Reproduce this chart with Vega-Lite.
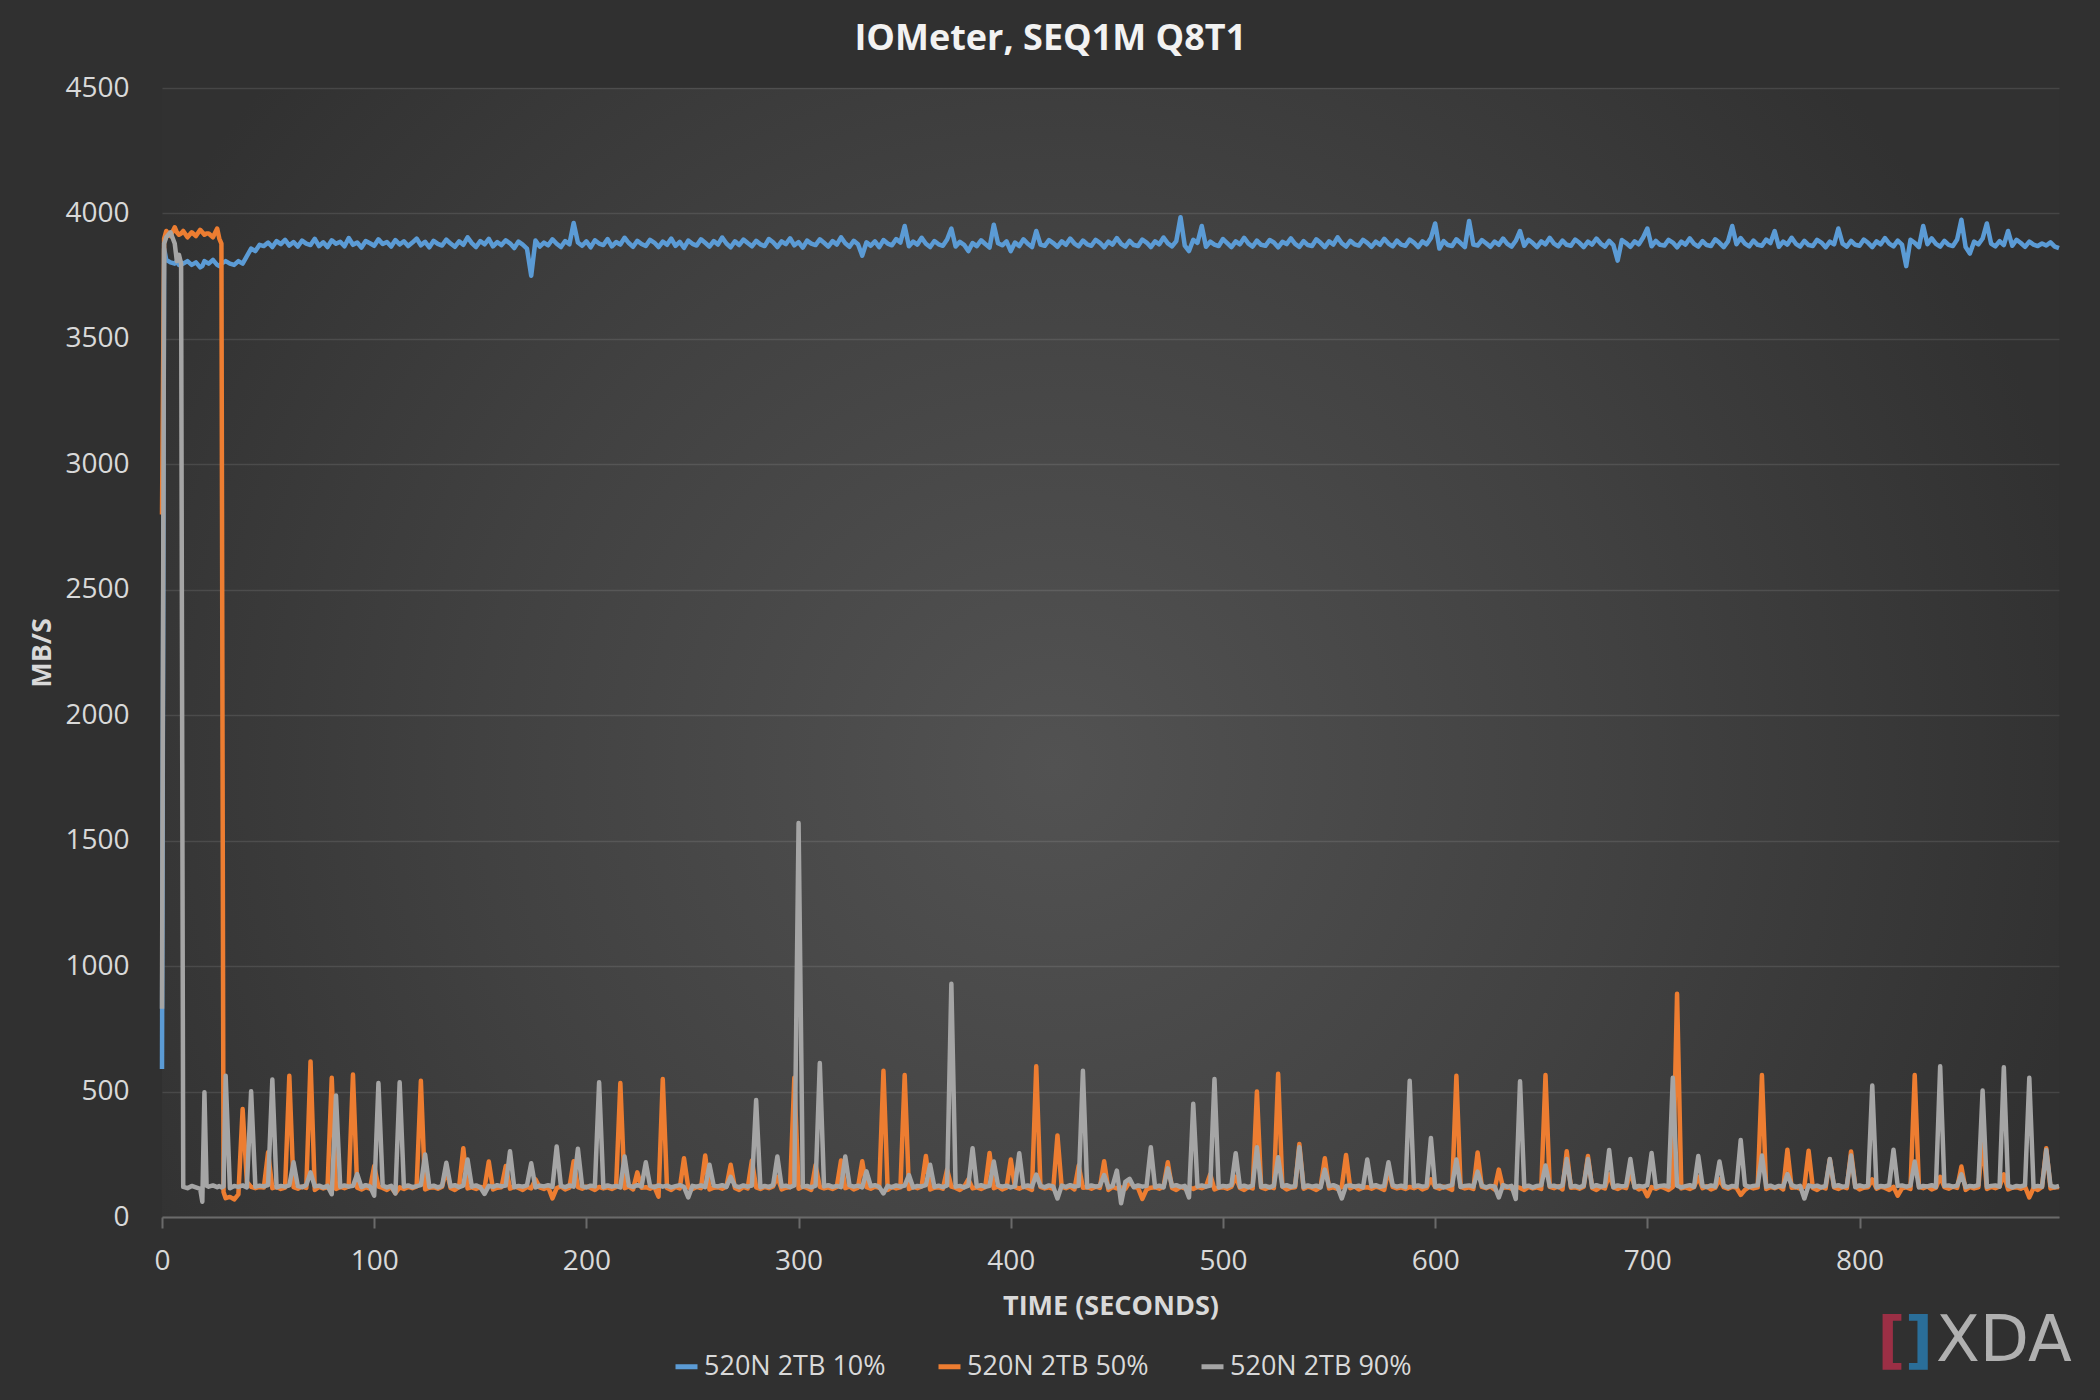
{
"$schema": "https://vega.github.io/schema/vega-lite/v6.json",
"width": 1897, "height": 1129,
"autosize": {"type": "none"},
"padding": {"left": 162, "top": 88, "right": 41, "bottom": 183},
"background": "#303030",
"title": {"text": "IOMeter, SEQ1M Q8T1", "fontSize": 36, "fontWeight": "bold", "color": "#f2f2f2", "anchor": "middle", "frame": "bounds", "offset": 16},
"config": {
  "font": "Open Sans",
  "view": {"stroke": null, "fill": {"gradient": "radial", "x1": 0.47, "y1": 0.56, "r1": 0, "x2": 0.47, "y2": 0.56, "r2": 0.55, "stops": [{"offset": 0, "color": "#525252"}, {"offset": 0.55, "color": "#414141"}, {"offset": 1, "color": "#313131"}]}},
  "axis": {"labelColor": "#d9d9d9", "labelFontSize": 28, "titleColor": "#d9d9d9", "titleFontSize": 27, "titleFontWeight": "bold", "gridColor": "#ffffff", "gridOpacity": 0.1, "gridWidth": 1.5}
},
"datasets": {
"names": [{"k": "a", "name": "520N 2TB 10%"}, {"k": "b", "name": "520N 2TB 50%"}, {"k": "c", "name": "520N 2TB 90%"}],
"perf": [
{"t":0,"a":590,"b":2800,"c":830},
{"t":1,"a":3860,"b":3900,"c":3880},
{"t":2,"a":3815,"b":3930,"c":3905},
{"t":4,"a":3805,"b":3910,"c":3925},
{"t":6,"a":3800,"b":3945,"c":3880},
{"t":7,"a":3810,"b":3925,"c":3810},
{"t":8,"a":3795,"b":3915,"c":3835},
{"t":9,"a":3805,"b":3920,"c":3800},
{"t":10,"a":3800,"b":3930,"c":120},
{"t":12,"a":3810,"b":3905,"c":115},
{"t":14,"a":3795,"b":3925,"c":124},
{"t":16,"a":3805,"b":3910,"c":118},
{"t":18,"a":3785,"b":3935,"c":112},
{"t":19,"a":3790,"b":3925,"c":61},
{"t":20,"a":3810,"b":3915,"c":497},
{"t":21,"a":3805,"b":3920,"c":125},
{"t":22,"a":3800,"b":3920,"c":121},
{"t":24,"a":3815,"b":3905,"c":126},
{"t":26,"a":3795,"b":3940,"c":119},
{"t":27,"a":3790,"b":3900,"c":123},
{"t":28,"a":3800,"b":3880,"c":118},
{"t":29,"a":3805,"b":100,"c":122},
{"t":30,"a":3810,"b":75,"c":563},
{"t":32,"a":3800,"b":80,"c":115},
{"t":34,"a":3795,"b":70,"c":124},
{"t":36,"a":3810,"b":90,"c":120},
{"t":38,"a":3800,"b":430,"c":126},
{"t":40,"a":3830,"b":140,"c":118},
{"t":42,"a":3860,"b":120,"c":501},
{"t":44,"a":3850,"b":115,"c":121},
{"t":46,"a":3875,"b":120,"c":125},
{"t":48,"a":3870,"b":118,"c":122},
{"t":50,"a":3884,"b":258,"c":127},
{"t":52,"a":3866,"b":115,"c":548},
{"t":54,"a":3890,"b":120,"c":118},
{"t":56,"a":3878,"b":112,"c":124},
{"t":58,"a":3895,"b":117,"c":121},
{"t":60,"a":3872,"b":563,"c":126},
{"t":62,"a":3886,"b":119,"c":218},
{"t":64,"a":3868,"b":113,"c":123},
{"t":66,"a":3892,"b":121,"c":119},
{"t":68,"a":3880,"b":116,"c":127},
{"t":70,"a":3874,"b":620,"c":178},
{"t":72,"a":3899,"b":108,"c":122},
{"t":74,"a":3870,"b":120,"c":125},
{"t":76,"a":3885,"b":114,"c":118},
{"t":78,"a":3866,"b":118,"c":124},
{"t":80,"a":3893,"b":555,"c":91},
{"t":82,"a":3879,"b":112,"c":484},
{"t":84,"a":3887,"b":120,"c":120},
{"t":86,"a":3869,"b":115,"c":126},
{"t":88,"a":3902,"b":122,"c":121},
{"t":90,"a":3875,"b":568,"c":124},
{"t":92,"a":3884,"b":117,"c":171},
{"t":94,"a":3864,"b":110,"c":119},
{"t":96,"a":3890,"b":119,"c":127},
{"t":98,"a":3881,"b":113,"c":122},
{"t":100,"a":3871,"b":203,"c":85},
{"t":102,"a":3897,"b":121,"c":534},
{"t":104,"a":3878,"b":116,"c":125},
{"t":106,"a":3886,"b":108,"c":118},
{"t":108,"a":3868,"b":120,"c":124},
{"t":110,"a":3894,"b":95,"c":94},
{"t":112,"a":3876,"b":118,"c":537},
{"t":114,"a":3889,"b":112,"c":121},
{"t":116,"a":3870,"b":120,"c":126},
{"t":118,"a":3884,"b":115,"c":119},
{"t":120,"a":3900,"b":122,"c":123},
{"t":122,"a":3873,"b":543,"c":127},
{"t":124,"a":3887,"b":110,"c":249},
{"t":126,"a":3865,"b":117,"c":120},
{"t":128,"a":3891,"b":119,"c":125},
{"t":130,"a":3879,"b":113,"c":118},
{"t":132,"a":3872,"b":121,"c":124},
{"t":134,"a":3896,"b":190,"c":216},
{"t":136,"a":3880,"b":116,"c":122},
{"t":138,"a":3867,"b":108,"c":127},
{"t":140,"a":3889,"b":120,"c":119},
{"t":142,"a":3875,"b":274,"c":125},
{"t":144,"a":3905,"b":114,"c":229},
{"t":146,"a":3882,"b":118,"c":121},
{"t":148,"a":3866,"b":112,"c":126},
{"t":150,"a":3890,"b":120,"c":118},
{"t":152,"a":3877,"b":115,"c":92},
{"t":154,"a":3899,"b":221,"c":124},
{"t":156,"a":3869,"b":110,"c":120},
{"t":158,"a":3886,"b":117,"c":127},
{"t":160,"a":3874,"b":119,"c":122},
{"t":162,"a":3893,"b":203,"c":125},
{"t":164,"a":3881,"b":113,"c":262},
{"t":166,"a":3862,"b":121,"c":119},
{"t":168,"a":3888,"b":116,"c":124},
{"t":170,"a":3876,"b":108,"c":121},
{"t":172,"a":3860,"b":120,"c":126},
{"t":174,"a":3752,"b":114,"c":214},
{"t":176,"a":3892,"b":150,"c":118},
{"t":178,"a":3868,"b":118,"c":125},
{"t":180,"a":3884,"b":112,"c":122},
{"t":182,"a":3873,"b":120,"c":127},
{"t":184,"a":3897,"b":74,"c":120},
{"t":186,"a":3879,"b":115,"c":281},
{"t":188,"a":3866,"b":122,"c":124},
{"t":190,"a":3890,"b":110,"c":119},
{"t":192,"a":3877,"b":117,"c":126},
{"t":194,"a":3962,"b":222,"c":121},
{"t":196,"a":3884,"b":119,"c":272},
{"t":198,"a":3871,"b":113,"c":123},
{"t":200,"a":3889,"b":121,"c":118},
{"t":202,"a":3865,"b":116,"c":125},
{"t":204,"a":3893,"b":108,"c":122},
{"t":206,"a":3880,"b":120,"c":537},
{"t":208,"a":3874,"b":114,"c":119},
{"t":210,"a":3898,"b":118,"c":126},
{"t":212,"a":3869,"b":112,"c":121},
{"t":214,"a":3886,"b":120,"c":124},
{"t":216,"a":3876,"b":534,"c":118},
{"t":218,"a":3903,"b":115,"c":241},
{"t":220,"a":3882,"b":122,"c":125},
{"t":222,"a":3867,"b":110,"c":120},
{"t":224,"a":3891,"b":178,"c":127},
{"t":226,"a":3878,"b":117,"c":122},
{"t":228,"a":3870,"b":119,"c":218},
{"t":230,"a":3895,"b":113,"c":124},
{"t":232,"a":3884,"b":121,"c":119},
{"t":234,"a":3866,"b":81,"c":126},
{"t":236,"a":3888,"b":550,"c":121},
{"t":238,"a":3875,"b":116,"c":125},
{"t":240,"a":3900,"b":108,"c":118},
{"t":242,"a":3871,"b":120,"c":123},
{"t":244,"a":3887,"b":114,"c":127},
{"t":246,"a":3863,"b":234,"c":120},
{"t":248,"a":3892,"b":118,"c":78},
{"t":250,"a":3879,"b":112,"c":124},
{"t":252,"a":3872,"b":120,"c":121},
{"t":254,"a":3897,"b":115,"c":126},
{"t":256,"a":3883,"b":245,"c":119},
{"t":258,"a":3868,"b":110,"c":208},
{"t":260,"a":3890,"b":117,"c":125},
{"t":262,"a":3876,"b":119,"c":122},
{"t":264,"a":3904,"b":113,"c":127},
{"t":266,"a":3880,"b":121,"c":120},
{"t":268,"a":3865,"b":208,"c":160},
{"t":270,"a":3889,"b":116,"c":124},
{"t":272,"a":3874,"b":108,"c":119},
{"t":274,"a":3896,"b":120,"c":126},
{"t":276,"a":3882,"b":114,"c":121},
{"t":278,"a":3869,"b":225,"c":125},
{"t":280,"a":3891,"b":118,"c":466},
{"t":282,"a":3877,"b":112,"c":118},
{"t":284,"a":3870,"b":120,"c":124},
{"t":286,"a":3898,"b":115,"c":120},
{"t":288,"a":3885,"b":122,"c":127},
{"t":290,"a":3866,"b":160,"c":241},
{"t":292,"a":3889,"b":110,"c":122},
{"t":294,"a":3878,"b":117,"c":125},
{"t":296,"a":3901,"b":119,"c":119},
{"t":298,"a":3873,"b":555,"c":126},
{"t":300,"a":3886,"b":113,"c":1570},
{"t":302,"a":3864,"b":121,"c":121},
{"t":304,"a":3892,"b":116,"c":124},
{"t":306,"a":3880,"b":108,"c":118},
{"t":308,"a":3874,"b":207,"c":125},
{"t":310,"a":3897,"b":120,"c":614},
{"t":312,"a":3883,"b":114,"c":122},
{"t":314,"a":3868,"b":118,"c":127},
{"t":316,"a":3890,"b":112,"c":120},
{"t":318,"a":3876,"b":120,"c":124},
{"t":320,"a":3905,"b":225,"c":119},
{"t":322,"a":3881,"b":115,"c":241},
{"t":324,"a":3867,"b":122,"c":126},
{"t":326,"a":3891,"b":110,"c":121},
{"t":328,"a":3877,"b":117,"c":125},
{"t":330,"a":3832,"b":222,"c":118},
{"t":332,"a":3885,"b":119,"c":182},
{"t":334,"a":3871,"b":113,"c":123},
{"t":336,"a":3889,"b":121,"c":127},
{"t":338,"a":3866,"b":116,"c":120},
{"t":340,"a":3894,"b":583,"c":94},
{"t":342,"a":3880,"b":108,"c":124},
{"t":344,"a":3873,"b":120,"c":119},
{"t":346,"a":3898,"b":114,"c":126},
{"t":348,"a":3884,"b":118,"c":121},
{"t":350,"a":3950,"b":566,"c":125},
{"t":352,"a":3869,"b":112,"c":167},
{"t":354,"a":3888,"b":120,"c":118},
{"t":356,"a":3876,"b":115,"c":124},
{"t":358,"a":3903,"b":122,"c":122},
{"t":360,"a":3879,"b":243,"c":127},
{"t":362,"a":3866,"b":110,"c":208},
{"t":364,"a":3890,"b":117,"c":120},
{"t":366,"a":3877,"b":119,"c":125},
{"t":368,"a":3871,"b":113,"c":119},
{"t":370,"a":3896,"b":189,"c":126},
{"t":372,"a":3940,"b":121,"c":930},
{"t":374,"a":3868,"b":116,"c":121},
{"t":376,"a":3887,"b":108,"c":124},
{"t":378,"a":3875,"b":120,"c":118},
{"t":380,"a":3850,"b":150,"c":125},
{"t":382,"a":3882,"b":114,"c":274},
{"t":384,"a":3870,"b":118,"c":122},
{"t":386,"a":3893,"b":112,"c":127},
{"t":388,"a":3878,"b":120,"c":120},
{"t":390,"a":3864,"b":255,"c":124},
{"t":392,"a":3955,"b":115,"c":221},
{"t":394,"a":3881,"b":122,"c":126},
{"t":396,"a":3873,"b":110,"c":121},
{"t":398,"a":3889,"b":117,"c":125},
{"t":400,"a":3850,"b":229,"c":118},
{"t":402,"a":3884,"b":119,"c":123},
{"t":404,"a":3870,"b":113,"c":254},
{"t":406,"a":3897,"b":121,"c":120},
{"t":408,"a":3879,"b":116,"c":126},
{"t":410,"a":3866,"b":108,"c":121},
{"t":412,"a":3930,"b":601,"c":169},
{"t":414,"a":3876,"b":120,"c":124},
{"t":416,"a":3871,"b":114,"c":119},
{"t":418,"a":3894,"b":118,"c":126},
{"t":420,"a":3882,"b":112,"c":122},
{"t":422,"a":3867,"b":325,"c":74},
{"t":424,"a":3889,"b":120,"c":125},
{"t":426,"a":3875,"b":115,"c":120},
{"t":428,"a":3900,"b":122,"c":127},
{"t":430,"a":3880,"b":110,"c":121},
{"t":432,"a":3869,"b":205,"c":124},
{"t":434,"a":3892,"b":117,"c":583},
{"t":436,"a":3877,"b":119,"c":119},
{"t":438,"a":3871,"b":113,"c":126},
{"t":440,"a":3895,"b":121,"c":121},
{"t":442,"a":3883,"b":116,"c":125},
{"t":444,"a":3865,"b":222,"c":167},
{"t":446,"a":3888,"b":108,"c":118},
{"t":448,"a":3876,"b":120,"c":124},
{"t":450,"a":3902,"b":114,"c":185},
{"t":452,"a":3879,"b":118,"c":55},
{"t":454,"a":3868,"b":112,"c":140},
{"t":456,"a":3891,"b":140,"c":152},
{"t":458,"a":3874,"b":120,"c":119},
{"t":460,"a":3870,"b":115,"c":126},
{"t":462,"a":3896,"b":72,"c":121},
{"t":464,"a":3884,"b":110,"c":124},
{"t":466,"a":3866,"b":117,"c":278},
{"t":468,"a":3889,"b":119,"c":120},
{"t":470,"a":3877,"b":113,"c":125},
{"t":472,"a":3904,"b":121,"c":118},
{"t":474,"a":3881,"b":218,"c":194},
{"t":476,"a":3869,"b":116,"c":123},
{"t":478,"a":3890,"b":108,"c":127},
{"t":480,"a":3985,"b":120,"c":120},
{"t":482,"a":3872,"b":114,"c":124},
{"t":484,"a":3850,"b":118,"c":78},
{"t":486,"a":3895,"b":112,"c":451},
{"t":488,"a":3883,"b":120,"c":122},
{"t":490,"a":3950,"b":115,"c":126},
{"t":492,"a":3867,"b":122,"c":121},
{"t":494,"a":3888,"b":170,"c":125},
{"t":496,"a":3876,"b":110,"c":550},
{"t":498,"a":3870,"b":117,"c":118},
{"t":500,"a":3898,"b":119,"c":124},
{"t":502,"a":3882,"b":113,"c":122},
{"t":504,"a":3866,"b":121,"c":127},
{"t":506,"a":3889,"b":160,"c":254},
{"t":508,"a":3877,"b":116,"c":120},
{"t":510,"a":3903,"b":108,"c":125},
{"t":512,"a":3880,"b":120,"c":119},
{"t":514,"a":3868,"b":114,"c":126},
{"t":516,"a":3892,"b":500,"c":278},
{"t":518,"a":3875,"b":118,"c":121},
{"t":520,"a":3871,"b":112,"c":124},
{"t":522,"a":3894,"b":120,"c":118},
{"t":524,"a":3884,"b":115,"c":125},
{"t":526,"a":3865,"b":571,"c":238},
{"t":528,"a":3887,"b":122,"c":122},
{"t":530,"a":3878,"b":110,"c":127},
{"t":532,"a":3901,"b":117,"c":120},
{"t":534,"a":3879,"b":119,"c":124},
{"t":536,"a":3867,"b":291,"c":278},
{"t":538,"a":3890,"b":113,"c":119},
{"t":540,"a":3874,"b":121,"c":126},
{"t":542,"a":3870,"b":116,"c":121},
{"t":544,"a":3897,"b":108,"c":125},
{"t":546,"a":3883,"b":120,"c":118},
{"t":548,"a":3866,"b":234,"c":189},
{"t":550,"a":3889,"b":114,"c":123},
{"t":552,"a":3876,"b":118,"c":127},
{"t":554,"a":3905,"b":112,"c":120},
{"t":556,"a":3881,"b":120,"c":74},
{"t":558,"a":3868,"b":247,"c":124},
{"t":560,"a":3891,"b":115,"c":126},
{"t":562,"a":3877,"b":122,"c":121},
{"t":564,"a":3872,"b":110,"c":125},
{"t":566,"a":3895,"b":117,"c":118},
{"t":568,"a":3883,"b":119,"c":229},
{"t":570,"a":3867,"b":113,"c":122},
{"t":572,"a":3888,"b":121,"c":127},
{"t":574,"a":3875,"b":116,"c":120},
{"t":576,"a":3899,"b":108,"c":124},
{"t":578,"a":3880,"b":190,"c":218},
{"t":580,"a":3869,"b":120,"c":126},
{"t":582,"a":3892,"b":114,"c":121},
{"t":584,"a":3876,"b":118,"c":125},
{"t":586,"a":3871,"b":112,"c":119},
{"t":588,"a":3896,"b":120,"c":543},
{"t":590,"a":3884,"b":115,"c":122},
{"t":592,"a":3866,"b":122,"c":126},
{"t":594,"a":3889,"b":110,"c":121},
{"t":596,"a":3877,"b":117,"c":124},
{"t":598,"a":3902,"b":150,"c":315},
{"t":600,"a":3960,"b":119,"c":120},
{"t":602,"a":3860,"b":113,"c":125},
{"t":604,"a":3890,"b":121,"c":118},
{"t":606,"a":3874,"b":116,"c":123},
{"t":608,"a":3870,"b":108,"c":127},
{"t":610,"a":3897,"b":563,"c":229},
{"t":612,"a":3882,"b":120,"c":120},
{"t":614,"a":3866,"b":114,"c":124},
{"t":616,"a":3970,"b":118,"c":126},
{"t":618,"a":3876,"b":112,"c":121},
{"t":620,"a":3872,"b":257,"c":181},
{"t":622,"a":3894,"b":120,"c":125},
{"t":624,"a":3881,"b":115,"c":118},
{"t":626,"a":3867,"b":122,"c":124},
{"t":628,"a":3888,"b":110,"c":122},
{"t":630,"a":3875,"b":189,"c":78},
{"t":632,"a":3900,"b":117,"c":127},
{"t":634,"a":3879,"b":119,"c":120},
{"t":636,"a":3868,"b":113,"c":124},
{"t":638,"a":3891,"b":121,"c":72},
{"t":640,"a":3930,"b":116,"c":541},
{"t":642,"a":3871,"b":108,"c":121},
{"t":644,"a":3895,"b":120,"c":125},
{"t":646,"a":3882,"b":114,"c":118},
{"t":648,"a":3866,"b":118,"c":124},
{"t":650,"a":3889,"b":112,"c":126},
{"t":652,"a":3877,"b":566,"c":205},
{"t":654,"a":3903,"b":120,"c":122},
{"t":656,"a":3880,"b":115,"c":125},
{"t":658,"a":3869,"b":122,"c":119},
{"t":660,"a":3892,"b":110,"c":126},
{"t":662,"a":3875,"b":262,"c":231},
{"t":664,"a":3871,"b":117,"c":121},
{"t":666,"a":3896,"b":119,"c":124},
{"t":668,"a":3883,"b":113,"c":118},
{"t":670,"a":3866,"b":121,"c":125},
{"t":672,"a":3888,"b":243,"c":231},
{"t":674,"a":3876,"b":116,"c":120},
{"t":676,"a":3900,"b":108,"c":127},
{"t":678,"a":3880,"b":120,"c":121},
{"t":680,"a":3868,"b":114,"c":124},
{"t":682,"a":3891,"b":170,"c":267},
{"t":684,"a":3874,"b":118,"c":119},
{"t":686,"a":3812,"b":112,"c":126},
{"t":688,"a":3894,"b":120,"c":122},
{"t":690,"a":3882,"b":115,"c":125},
{"t":692,"a":3867,"b":180,"c":231},
{"t":694,"a":3889,"b":122,"c":118},
{"t":696,"a":3877,"b":110,"c":124},
{"t":698,"a":3904,"b":117,"c":121},
{"t":700,"a":3940,"b":83,"c":127},
{"t":702,"a":3869,"b":119,"c":255},
{"t":704,"a":3891,"b":113,"c":120},
{"t":706,"a":3875,"b":121,"c":124},
{"t":708,"a":3872,"b":116,"c":126},
{"t":710,"a":3895,"b":108,"c":121},
{"t":712,"a":3884,"b":120,"c":555},
{"t":714,"a":3865,"b":890,"c":125},
{"t":716,"a":3888,"b":114,"c":118},
{"t":718,"a":3876,"b":118,"c":123},
{"t":720,"a":3901,"b":112,"c":127},
{"t":722,"a":3879,"b":120,"c":120},
{"t":724,"a":3868,"b":160,"c":243},
{"t":726,"a":3890,"b":115,"c":124},
{"t":728,"a":3874,"b":122,"c":119},
{"t":730,"a":3870,"b":110,"c":126},
{"t":732,"a":3897,"b":117,"c":121},
{"t":734,"a":3883,"b":150,"c":221},
{"t":736,"a":3866,"b":119,"c":125},
{"t":738,"a":3889,"b":113,"c":118},
{"t":740,"a":3950,"b":121,"c":124},
{"t":742,"a":3877,"b":116,"c":122},
{"t":744,"a":3902,"b":88,"c":307},
{"t":746,"a":3880,"b":108,"c":127},
{"t":748,"a":3869,"b":120,"c":120},
{"t":750,"a":3892,"b":114,"c":124},
{"t":752,"a":3875,"b":118,"c":126},
{"t":754,"a":3871,"b":566,"c":245},
{"t":756,"a":3896,"b":112,"c":121},
{"t":758,"a":3882,"b":120,"c":125},
{"t":760,"a":3930,"b":115,"c":118},
{"t":762,"a":3867,"b":122,"c":124},
{"t":764,"a":3888,"b":110,"c":122},
{"t":766,"a":3876,"b":268,"c":171},
{"t":768,"a":3903,"b":117,"c":127},
{"t":770,"a":3879,"b":119,"c":120},
{"t":772,"a":3868,"b":113,"c":124},
{"t":774,"a":3891,"b":121,"c":74},
{"t":776,"a":3874,"b":264,"c":126},
{"t":778,"a":3870,"b":116,"c":121},
{"t":780,"a":3895,"b":108,"c":125},
{"t":782,"a":3884,"b":120,"c":118},
{"t":784,"a":3865,"b":114,"c":124},
{"t":786,"a":3888,"b":230,"c":231},
{"t":788,"a":3877,"b":118,"c":122},
{"t":790,"a":3940,"b":112,"c":127},
{"t":792,"a":3880,"b":120,"c":120},
{"t":794,"a":3868,"b":115,"c":124},
{"t":796,"a":3891,"b":261,"c":245},
{"t":798,"a":3875,"b":122,"c":119},
{"t":800,"a":3871,"b":110,"c":126},
{"t":802,"a":3896,"b":117,"c":121},
{"t":804,"a":3883,"b":119,"c":125},
{"t":806,"a":3866,"b":150,"c":524},
{"t":808,"a":3889,"b":113,"c":118},
{"t":810,"a":3877,"b":121,"c":124},
{"t":812,"a":3902,"b":116,"c":122},
{"t":814,"a":3880,"b":108,"c":127},
{"t":816,"a":3869,"b":120,"c":268},
{"t":818,"a":3892,"b":85,"c":124},
{"t":820,"a":3876,"b":114,"c":126},
{"t":822,"a":3790,"b":118,"c":121},
{"t":824,"a":3895,"b":112,"c":125},
{"t":826,"a":3883,"b":566,"c":221},
{"t":828,"a":3866,"b":120,"c":118},
{"t":830,"a":3950,"b":115,"c":124},
{"t":832,"a":3877,"b":122,"c":122},
{"t":834,"a":3901,"b":110,"c":127},
{"t":836,"a":3879,"b":117,"c":120},
{"t":838,"a":3868,"b":160,"c":601},
{"t":840,"a":3891,"b":119,"c":124},
{"t":842,"a":3875,"b":113,"c":126},
{"t":844,"a":3870,"b":121,"c":121},
{"t":846,"a":3896,"b":116,"c":125},
{"t":848,"a":3975,"b":201,"c":170},
{"t":850,"a":3866,"b":108,"c":119},
{"t":852,"a":3840,"b":120,"c":124},
{"t":854,"a":3888,"b":114,"c":122},
{"t":856,"a":3877,"b":118,"c":127},
{"t":858,"a":3900,"b":311,"c":504},
{"t":860,"a":3960,"b":112,"c":120},
{"t":862,"a":3880,"b":120,"c":124},
{"t":864,"a":3869,"b":115,"c":126},
{"t":866,"a":3890,"b":122,"c":121},
{"t":868,"a":3874,"b":170,"c":597},
{"t":870,"a":3930,"b":110,"c":125},
{"t":872,"a":3871,"b":117,"c":118},
{"t":874,"a":3895,"b":119,"c":124},
{"t":876,"a":3882,"b":113,"c":122},
{"t":878,"a":3867,"b":121,"c":127},
{"t":880,"a":3888,"b":78,"c":555},
{"t":882,"a":3876,"b":116,"c":120},
{"t":884,"a":3870,"b":108,"c":124},
{"t":886,"a":3880,"b":120,"c":121},
{"t":888,"a":3872,"b":274,"c":267},
{"t":890,"a":3885,"b":114,"c":125},
{"t":892,"a":3868,"b":118,"c":119},
{"t":894,"a":3862,"b":120,"c":124}
]
},
"layer": [
{
  "data": {"name": "perf"},
  "transform": [
    {"fold": ["a", "b", "c"], "as": ["k", "v"]},
    {"lookup": "k", "from": {"data": {"name": "names"}, "key": "k", "fields": ["name"]}}
  ],
  "mark": {"type": "line", "strokeWidth": 4.5, "strokeJoin": "round"},
  "encoding": {
    "x": {"field": "t", "type": "quantitative", "scale": {"domain": [0, 894], "nice": false}, "title": "TIME (SECONDS)",
      "axis": {"values": [0, 100, 200, 300, 400, 500, 600, 700, 800], "grid": false, "labelFlush": false, "domainColor": "#6a6a6a", "domainWidth": 2, "tickColor": "#6a6a6a", "tickWidth": 2, "tickSize": 11, "labelPadding": 19, "titlePadding": 18}},
    "y": {"field": "v", "type": "quantitative", "scale": {"domain": [0, 4500], "nice": false}, "title": "MB/S",
      "axis": {"values": [0, 500, 1000, 1500, 2000, 2500, 3000, 3500, 4000, 4500], "format": "d", "domain": false, "ticks": false, "tickSize": 0, "labelPadding": 33, "titlePadding": 8}},
    "color": {"field": "name", "type": "nominal",
      "scale": {"domain": ["520N 2TB 10%", "520N 2TB 50%", "520N 2TB 90%"], "range": ["#5b9bd5", "#ed7d31", "#a5a5a5"]},
      "legend": {"title": null, "orient": "none", "direction": "horizontal", "legendX": 511, "legendY": 1265, "symbolType": "stroke", "symbolSize": 484, "symbolStrokeWidth": 5, "labelFontSize": 27, "labelColor": "#d9d9d9", "labelOffset": 4, "labelLimit": 400, "columnPadding": 42}}
  }
},
{
  "data": {"values": [{}]},
  "mark": {"type": "text", "text": "XDA", "fontSize": 64, "font": "DejaVu Sans", "color": "#b0b0b0", "align": "center", "baseline": "middle"},
  "encoding": {
    "x": {"datum": 868, "type": "quantitative", "scale": {"domain": [0, 894], "nice": false}, "title": "TIME (SECONDS)"},
    "y": {"datum": -498, "type": "quantitative", "scale": {"domain": [0, 4500], "nice": false}, "title": "MB/S"}
  }
},
{
  "data": {"values": [{}]},
  "mark": {"type": "text", "text": "[", "fontSize": 62, "font": "DejaVu Sans", "fontWeight": "bold", "color": "#9b2f45", "align": "center", "baseline": "middle"},
  "encoding": {
    "x": {"datum": 815, "type": "quantitative", "scale": {"domain": [0, 894], "nice": false}, "title": "TIME (SECONDS)"},
    "y": {"datum": -498, "type": "quantitative", "scale": {"domain": [0, 4500], "nice": false}, "title": "MB/S"}
  }
},
{
  "data": {"values": [{}]},
  "mark": {"type": "text", "text": "]", "fontSize": 62, "font": "DejaVu Sans", "fontWeight": "bold", "color": "#2a6e99", "align": "center", "baseline": "middle"},
  "encoding": {
    "x": {"datum": 828, "type": "quantitative", "scale": {"domain": [0, 894], "nice": false}, "title": "TIME (SECONDS)"},
    "y": {"datum": -498, "type": "quantitative", "scale": {"domain": [0, 4500], "nice": false}, "title": "MB/S"}
  }
}
]
}
